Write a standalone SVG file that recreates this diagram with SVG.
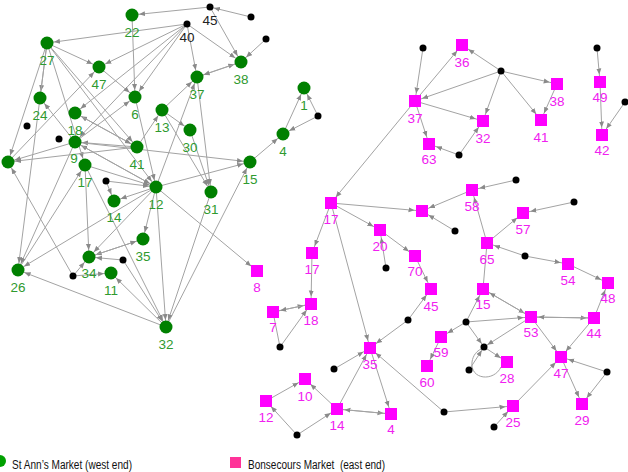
<svg xmlns="http://www.w3.org/2000/svg" width="628" height="472" viewBox="0 0 628 472">
<style>
.e{stroke:#a3a3a3;stroke-width:1;fill:none}
.g{marker-end:url(#aG)}
.s{marker-end:url(#aS)}
.d{marker-end:url(#aD)}
.gn circle{fill:#008000}
.gn text{fill:#2f9a2f}
.pn rect{fill:#ff00ff}
.pn text{fill:#f020f0}
text{font-family:"Liberation Sans",Arial,sans-serif;font-size:13.5px;text-anchor:middle}
.dot{fill:#000}
.dl{fill:#222}
.leg{font-size:12px;text-anchor:start;fill:#111}
</style>
<defs>
<marker id="aG" viewBox="0 -3 6 6" refX="13" refY="0" markerWidth="6" markerHeight="6" orient="auto" markerUnits="userSpaceOnUse"><path d="M0,-2.5L6,0L0,2.5z" fill="#8a8a8a"/></marker>
<marker id="aS" viewBox="0 -3 6 6" refX="13.5" refY="0" markerWidth="6" markerHeight="6" orient="auto" markerUnits="userSpaceOnUse"><path d="M0,-2.5L6,0L0,2.5z" fill="#8a8a8a"/></marker>
<marker id="aD" viewBox="0 -3 6 6" refX="10" refY="0" markerWidth="6" markerHeight="6" orient="auto" markerUnits="userSpaceOnUse"><path d="M0,-2.5L6,0L0,2.5z" fill="#8a8a8a"/></marker>
</defs>
<rect width="628" height="472" fill="#fff"/>
<g id="connectors">
<!-- west cluster -->
<line class="e g" x1="210" y1="7" x2="132" y2="15"/>
<line class="e d" x1="251" y1="17" x2="210" y2="7"/>
<line class="e g" x1="210" y1="7" x2="241" y2="62"/>
<line class="e g" x1="187" y1="24" x2="241" y2="62"/>
<line class="e g" x1="266" y1="39" x2="241" y2="62"/>
<line class="e g" x1="187" y1="24" x2="197" y2="77"/>
<line class="e g" x1="197" y1="77" x2="241" y2="62"/>
<line class="e g" x1="241" y1="62" x2="197" y2="77"/>
<line class="e g" x1="187" y1="24" x2="47" y2="43"/>
<line class="e g" x1="187" y1="24" x2="99" y2="67"/>
<line class="e g" x1="187" y1="24" x2="75" y2="113"/>
<line class="e g" x1="187" y1="24" x2="75" y2="142"/>
<line class="e g" x1="187" y1="24" x2="135" y2="97"/>
<line class="e g" x1="132" y1="15" x2="135" y2="97"/>
<line class="e g" x1="47" y1="43" x2="99" y2="67"/>
<line class="e g" x1="47" y1="43" x2="40" y2="98"/>
<line class="e g" x1="47" y1="43" x2="137" y2="147"/>
<line class="e g" x1="47" y1="43" x2="156" y2="187"/>
<line class="e g" x1="47" y1="43" x2="85" y2="165"/>
<line class="e g" x1="47" y1="43" x2="8" y2="162"/>
<line class="e g" x1="47" y1="43" x2="18" y2="270"/>
<line class="e g" x1="99" y1="67" x2="135" y2="97"/>
<line class="e g" x1="75" y1="142" x2="40" y2="98"/>
<line class="e g" x1="137" y1="147" x2="75" y2="113"/>
<line class="e g" x1="75" y1="113" x2="137" y2="147"/>
<line class="e g" x1="137" y1="147" x2="75" y2="142"/>
<line class="e g" x1="137" y1="147" x2="8" y2="162"/>
<line class="e g" x1="75" y1="142" x2="8" y2="162"/>
<line class="e g" x1="8" y1="162" x2="99" y2="67"/>
<line class="e g" x1="75" y1="142" x2="135" y2="97"/>
<line class="e g" x1="135" y1="97" x2="156" y2="187"/>
<line class="e g" x1="162" y1="110" x2="197" y2="77"/>
<line class="e g" x1="162" y1="110" x2="190" y2="130"/>
<line class="e g" x1="162" y1="110" x2="211" y2="192"/>
<line class="e g" x1="190" y1="130" x2="211" y2="192"/>
<line class="e g" x1="197" y1="77" x2="211" y2="192"/>
<line class="e g" x1="137" y1="147" x2="162" y2="110"/>
<line class="e g" x1="156" y1="187" x2="197" y2="77"/>
<line class="e g" x1="156" y1="187" x2="75" y2="142"/>
<line class="e g" x1="75" y1="142" x2="156" y2="187"/>
<line class="e g" x1="85" y1="165" x2="156" y2="187"/>
<line class="e g" x1="156" y1="187" x2="114" y2="201"/>
<line class="e g" x1="106" y1="181" x2="114" y2="201"/>
<line class="e g" x1="106" y1="181" x2="156" y2="187"/>
<line class="e g" x1="75" y1="142" x2="250" y2="162"/>
<line class="e g" x1="156" y1="187" x2="250" y2="162"/>
<line class="e g" x1="250" y1="162" x2="283" y2="134"/>
<line class="e g" x1="283" y1="134" x2="304" y2="88"/>
<line class="e g" x1="318" y1="116" x2="304" y2="88"/>
<line class="e g" x1="318" y1="116" x2="283" y2="134"/>
<line class="e s" x1="156" y1="187" x2="257" y2="271"/>
<line class="e g" x1="166" y1="327" x2="250" y2="162"/>
<line class="e g" x1="211" y1="192" x2="166" y2="327"/>
<line class="e g" x1="156" y1="187" x2="166" y2="327"/>
<line class="e g" x1="156" y1="187" x2="143" y2="239"/>
<line class="e g" x1="156" y1="187" x2="89" y2="257"/>
<line class="e g" x1="156" y1="187" x2="18" y2="270"/>
<line class="e g" x1="143" y1="239" x2="89" y2="257"/>
<line class="e g" x1="89" y1="257" x2="143" y2="239"/>
<line class="e g" x1="123" y1="260" x2="89" y2="257"/>
<line class="e g" x1="73" y1="276" x2="89" y2="257"/>
<line class="e g" x1="73" y1="276" x2="111" y2="273"/>
<line class="e g" x1="85" y1="165" x2="89" y2="257"/>
<line class="e g" x1="166" y1="327" x2="111" y2="273"/>
<line class="e g" x1="166" y1="327" x2="18" y2="270"/>
<line class="e g" x1="73" y1="276" x2="8" y2="162"/>
<line class="e g" x1="18" y1="270" x2="85" y2="165"/>
<line class="e g" x1="75" y1="142" x2="18" y2="270"/>
<line class="e g" x1="85" y1="165" x2="166" y2="327"/>
<line class="e g" x1="123" y1="260" x2="166" y2="327"/>
<!-- east cluster -->
<line class="e s" x1="423" y1="48" x2="415" y2="101"/>
<line class="e s" x1="415" y1="101" x2="462" y2="45"/>
<line class="e s" x1="501" y1="71" x2="462" y2="45"/>
<line class="e s" x1="501" y1="71" x2="415" y2="101"/>
<line class="e s" x1="501" y1="71" x2="557" y2="84"/>
<line class="e s" x1="501" y1="71" x2="483" y2="121"/>
<line class="e s" x1="501" y1="71" x2="541" y2="120"/>
<line class="e s" x1="415" y1="101" x2="483" y2="121"/>
<line class="e s" x1="415" y1="101" x2="429" y2="144"/>
<line class="e s" x1="459" y1="155" x2="429" y2="144"/>
<line class="e s" x1="459" y1="155" x2="483" y2="121"/>
<line class="e s" x1="557" y1="84" x2="541" y2="120"/>
<line class="e s" x1="597" y1="48" x2="600" y2="82"/>
<line class="e s" x1="600" y1="82" x2="602" y2="135"/>
<line class="e s" x1="625" y1="102" x2="602" y2="135"/>
<line class="e s" x1="415" y1="101" x2="331" y2="203"/>
<line class="e s" x1="331" y1="203" x2="422" y2="211"/>
<line class="e s" x1="472" y1="190" x2="422" y2="211"/>
<line class="e s" x1="455" y1="231" x2="422" y2="211"/>
<line class="e s" x1="516" y1="180" x2="472" y2="190"/>
<line class="e s" x1="487" y1="243" x2="472" y2="190"/>
<line class="e s" x1="487" y1="243" x2="523" y2="213"/>
<line class="e s" x1="574" y1="202" x2="523" y2="213"/>
<line class="e s" x1="525" y1="256" x2="487" y2="243"/>
<line class="e s" x1="525" y1="256" x2="568" y2="264"/>
<line class="e s" x1="568" y1="264" x2="608" y2="283"/>
<line class="e s" x1="594" y1="318" x2="608" y2="283"/>
<line class="e" x1="483" y1="289" x2="487" y2="243"/>
<line class="e s" x1="483" y1="289" x2="531" y2="317"/>
<line class="e s" x1="531" y1="317" x2="483" y2="289"/>
<line class="e s" x1="531" y1="317" x2="594" y2="318"/>
<line class="e s" x1="594" y1="318" x2="531" y2="317"/>
<line class="e s" x1="531" y1="317" x2="561" y2="357"/>
<line class="e s" x1="594" y1="318" x2="561" y2="357"/>
<line class="e s" x1="607" y1="372" x2="561" y2="357"/>
<line class="e s" x1="607" y1="372" x2="582" y2="404"/>
<line class="e s" x1="561" y1="357" x2="582" y2="404"/>
<line class="e s" x1="513" y1="406" x2="561" y2="357"/>
<line class="e s" x1="444" y1="412" x2="513" y2="406"/>
<line class="e s" x1="494" y1="427" x2="513" y2="406"/>
<line class="e s" x1="466" y1="322" x2="483" y2="289"/>
<line class="e s" x1="466" y1="322" x2="531" y2="317"/>
<line class="e s" x1="466" y1="322" x2="441" y2="337"/>
<line class="e d" x1="466" y1="322" x2="484" y2="347"/>
<line class="e d" x1="531" y1="317" x2="484" y2="347"/>
<line class="e s" x1="484" y1="347" x2="507" y2="362"/>
<line class="e d" x1="469" y1="370" x2="484" y2="347"/>
<path class="e" d="M501,367 C494,382 470,380 472,362 C473,355 477,351 481,349"/>
<line class="e s" x1="441" y1="337" x2="427" y2="366"/>
<line class="e s" x1="337" y1="409" x2="370" y2="348"/>
<line class="e s" x1="337" y1="409" x2="391" y2="414"/>
<line class="e s" x1="391" y1="414" x2="337" y2="409"/>
<line class="e s" x1="370" y1="348" x2="391" y2="414"/>
<line class="e s" x1="331" y1="203" x2="370" y2="348"/>
<line class="e s" x1="408" y1="320" x2="370" y2="348"/>
<line class="e s" x1="408" y1="320" x2="431" y2="289"/>
<line class="e s" x1="415" y1="256" x2="431" y2="289"/>
<line class="e s" x1="380" y1="230" x2="415" y2="256"/>
<line class="e s" x1="331" y1="203" x2="380" y2="230"/>
<line class="e s" x1="386" y1="268" x2="380" y2="230"/>
<line class="e s" x1="331" y1="203" x2="312" y2="253"/>
<line class="e s" x1="312" y1="253" x2="311" y2="304"/>
<line class="e s" x1="273" y1="312" x2="311" y2="304"/>
<line class="e s" x1="311" y1="304" x2="273" y2="312"/>
<line class="e s" x1="280" y1="347" x2="311" y2="304"/>
<line class="e" x1="273" y1="312" x2="280" y2="347"/>
<line class="e s" x1="334" y1="369" x2="370" y2="348"/>
<line class="e s" x1="266" y1="401" x2="305" y2="379"/>
<line class="e s" x1="337" y1="409" x2="305" y2="379"/>
<line class="e s" x1="297" y1="435" x2="266" y2="401"/>
<line class="e s" x1="297" y1="435" x2="337" y2="409"/>
<line class="e s" x1="444" y1="412" x2="370" y2="348"/>
</g>
<g id="west-nodes" class="gn">
<g id="n22"><circle cx="132" cy="15" r="6.5"/><text x="132" y="36.5">22</text></g>
<g id="n27"><circle cx="47" cy="43" r="6.5"/><text x="47" y="64.5">27</text></g>
<g id="n47"><circle cx="99" cy="67" r="6.5"/><text x="99" y="88.5">47</text></g>
<g id="n24"><circle cx="40" cy="98" r="6.5"/><text x="40" y="119.5">24</text></g>
<g id="n18"><circle cx="75" cy="113" r="6.5"/><text x="75" y="134.5">18</text></g>
<g id="n6"><circle cx="135" cy="97" r="6.5"/><text x="135" y="118.5">6</text></g>
<g id="n9"><circle cx="75" cy="142" r="6.5"/><text x="74" y="163">9</text></g>
<g id="n41"><circle cx="137" cy="147" r="6.5"/><text x="137" y="168.5">41</text></g>
<g id="n13"><circle cx="162" cy="110" r="6.5"/><text x="162" y="131.5">13</text></g>
<g id="n30"><circle cx="190" cy="130" r="6.5"/><text x="190" y="151.5">30</text></g>
<g id="n37"><circle cx="197" cy="77" r="6.5"/><text x="197" y="98.5">37</text></g>
<g id="n38"><circle cx="241" cy="62" r="6.5"/><text x="241" y="83.5">38</text></g>
<g id="n1"><circle cx="304" cy="88" r="6.5"/><text x="304" y="109.5">1</text></g>
<g id="n4"><circle cx="283" cy="134" r="6.5"/><text x="283" y="155.5">4</text></g>
<g id="n15"><circle cx="250" cy="162" r="6.5"/><text x="250" y="183.5">15</text></g>
<g id="n31"><circle cx="211" cy="192" r="6.5"/><text x="211" y="213.5">31</text></g>
<g id="n12"><circle cx="156" cy="187" r="6.5"/><text x="156" y="208.5">12</text></g>
<g id="n17"><circle cx="85" cy="165" r="6.5"/><text x="85" y="186.5">17</text></g>
<g id="n14"><circle cx="114" cy="201" r="6.5"/><text x="114" y="222">14</text></g>
<g id="n35"><circle cx="143" cy="239" r="6.5"/><text x="143" y="260.5">35</text></g>
<g id="n34"><circle cx="89" cy="257" r="6.5"/><text x="89" y="278">34</text></g>
<g id="n11"><circle cx="111" cy="273" r="6.5"/><text x="111" y="294.5">11</text></g>
<g id="n26"><circle cx="18" cy="270" r="6.5"/><text x="18" y="291.5">26</text></g>
<g id="n32"><circle cx="166" cy="327" r="6.5"/><text x="166" y="348.5">32</text></g>
<g id="nL"><circle cx="8" cy="162" r="6.5"/></g>
</g>
<g id="west-dots">
<g id="d45"><circle class="dot" cx="210" cy="7" r="3.5"/><text class="dl" x="210" y="25">45</text></g>
<g id="d40"><circle class="dot" cx="187" cy="24" r="3.5"/><text class="dl" x="187" y="42">40</text></g>
<circle class="dot" cx="251" cy="17" r="3.5"/>
<circle class="dot" cx="266" cy="39" r="3.5"/>
<circle class="dot" cx="318" cy="116" r="3.5"/>
<circle class="dot" cx="27" cy="126" r="3.5"/>
<circle class="dot" cx="59" cy="139" r="3.5"/>
<circle class="dot" cx="106" cy="181" r="3.5"/>
<circle class="dot" cx="123" cy="260" r="3.5"/>
<circle class="dot" cx="73" cy="276" r="3.5"/>
</g>
<g id="east-nodes" class="pn">
<g id="m36"><rect x="456" y="39" width="12" height="12"/><text x="462" y="66.5">36</text></g>
<g id="m37"><rect x="409" y="95" width="12" height="12"/><text x="415" y="122.5">37</text></g>
<g id="m38"><rect x="551" y="78" width="12" height="12"/><text x="557" y="105.5">38</text></g>
<g id="m32"><rect x="477" y="115" width="12" height="12"/><text x="483" y="142.5">32</text></g>
<g id="m41"><rect x="535" y="114" width="12" height="12"/><text x="541" y="141.5">41</text></g>
<g id="m63"><rect x="423" y="138" width="12" height="12"/><text x="429" y="164">63</text></g>
<g id="m49"><rect x="594" y="76" width="12" height="12"/><text x="600" y="102">49</text></g>
<g id="m42"><rect x="596" y="129" width="12" height="12"/><text x="602" y="155">42</text></g>
<g id="m17"><rect x="325" y="197" width="12" height="12"/><text x="331" y="224">17</text></g>
<g id="mX"><rect x="416" y="205" width="12" height="12"/></g>
<g id="m58"><rect x="466" y="184" width="12" height="12"/><text x="472" y="211">58</text></g>
<g id="m57"><rect x="517" y="207" width="12" height="12"/><text x="523" y="234">57</text></g>
<g id="m20"><rect x="374" y="224" width="12" height="12"/><text x="380" y="251">20</text></g>
<g id="m65"><rect x="481" y="237" width="12" height="12"/><text x="487" y="264">65</text></g>
<g id="m8"><rect x="251" y="265" width="12" height="12"/><text x="257" y="292">8</text></g>
<g id="m17b"><rect x="306" y="247" width="12" height="12"/><text x="312" y="274">17</text></g>
<g id="m70"><rect x="409" y="250" width="12" height="12"/><text x="415" y="276">70</text></g>
<g id="m54"><rect x="562" y="258" width="12" height="12"/><text x="568" y="285">54</text></g>
<g id="m48"><rect x="602" y="277" width="12" height="12"/><text x="608" y="303">48</text></g>
<g id="m45"><rect x="425" y="283" width="12" height="12"/><text x="431" y="310.5">45</text></g>
<g id="m15"><rect x="477" y="283" width="12" height="12"/><text x="483" y="309">15</text></g>
<g id="m18"><rect x="305" y="298" width="12" height="12"/><text x="311" y="325">18</text></g>
<g id="m7"><rect x="267" y="306" width="12" height="12"/><text x="273" y="332">7</text></g>
<g id="m53"><rect x="525" y="311" width="12" height="12"/><text x="531" y="337">53</text></g>
<g id="m44"><rect x="588" y="312" width="12" height="12"/><text x="594" y="338">44</text></g>
<g id="m59"><rect x="435" y="331" width="12" height="12"/><text x="441" y="357">59</text></g>
<g id="m35"><rect x="364" y="342" width="12" height="12"/><text x="370" y="369">35</text></g>
<g id="m47"><rect x="555" y="351" width="12" height="12"/><text x="561" y="378">47</text></g>
<g id="m28"><rect x="501" y="356" width="12" height="12"/><text x="507" y="383">28</text></g>
<g id="m60"><rect x="421" y="360" width="12" height="12"/><text x="427" y="387">60</text></g>
<g id="m10"><rect x="299" y="373" width="12" height="12"/><text x="305" y="400.5">10</text></g>
<g id="m12"><rect x="260" y="395" width="12" height="12"/><text x="266" y="422">12</text></g>
<g id="m25"><rect x="507" y="400" width="12" height="12"/><text x="513" y="427">25</text></g>
<g id="m29"><rect x="576" y="398" width="12" height="12"/><text x="582" y="425">29</text></g>
<g id="m14"><rect x="331" y="403" width="12" height="12"/><text x="337" y="430">14</text></g>
<g id="m4"><rect x="385" y="408" width="12" height="12"/><text x="391" y="434">4</text></g>
</g>
<g id="east-dots">
<circle class="dot" cx="423" cy="48" r="3.5"/>
<circle class="dot" cx="501" cy="71" r="3.5"/>
<circle class="dot" cx="459" cy="155" r="3.5"/>
<circle class="dot" cx="597" cy="48" r="3.5"/>
<circle class="dot" cx="625" cy="102" r="3.5"/>
<circle class="dot" cx="516" cy="180" r="3.5"/>
<circle class="dot" cx="574" cy="202" r="3.5"/>
<circle class="dot" cx="455" cy="231" r="3.5"/>
<circle class="dot" cx="525" cy="256" r="3.5"/>
<circle class="dot" cx="386" cy="268" r="3.5"/>
<circle class="dot" cx="408" cy="320" r="3.5"/>
<circle class="dot" cx="466" cy="322" r="3.5"/>
<circle class="dot" cx="484" cy="347" r="3.5"/>
<circle class="dot" cx="469" cy="370" r="3.5"/>
<circle class="dot" cx="607" cy="372" r="3.5"/>
<circle class="dot" cx="444" cy="412" r="3.5"/>
<circle class="dot" cx="494" cy="427" r="3.5"/>
<circle class="dot" cx="280" cy="347" r="3.5"/>
<circle class="dot" cx="334" cy="369" r="3.5"/>
<circle class="dot" cx="297" cy="435" r="3.5"/>
</g>
<g id="legend">
<circle cx="0" cy="461" r="6" fill="#00a000"/>
<text class="leg" x="12" y="469" textLength="120" lengthAdjust="spacingAndGlyphs">St Ann’s Market (west end)</text>
<rect x="230" y="457" width="11" height="11" fill="#ff3399"/>
<text class="leg" x="248" y="469" textLength="137" lengthAdjust="spacingAndGlyphs" xml:space="preserve">Bonsecours Market  (east end)</text>
</g>
</svg>
